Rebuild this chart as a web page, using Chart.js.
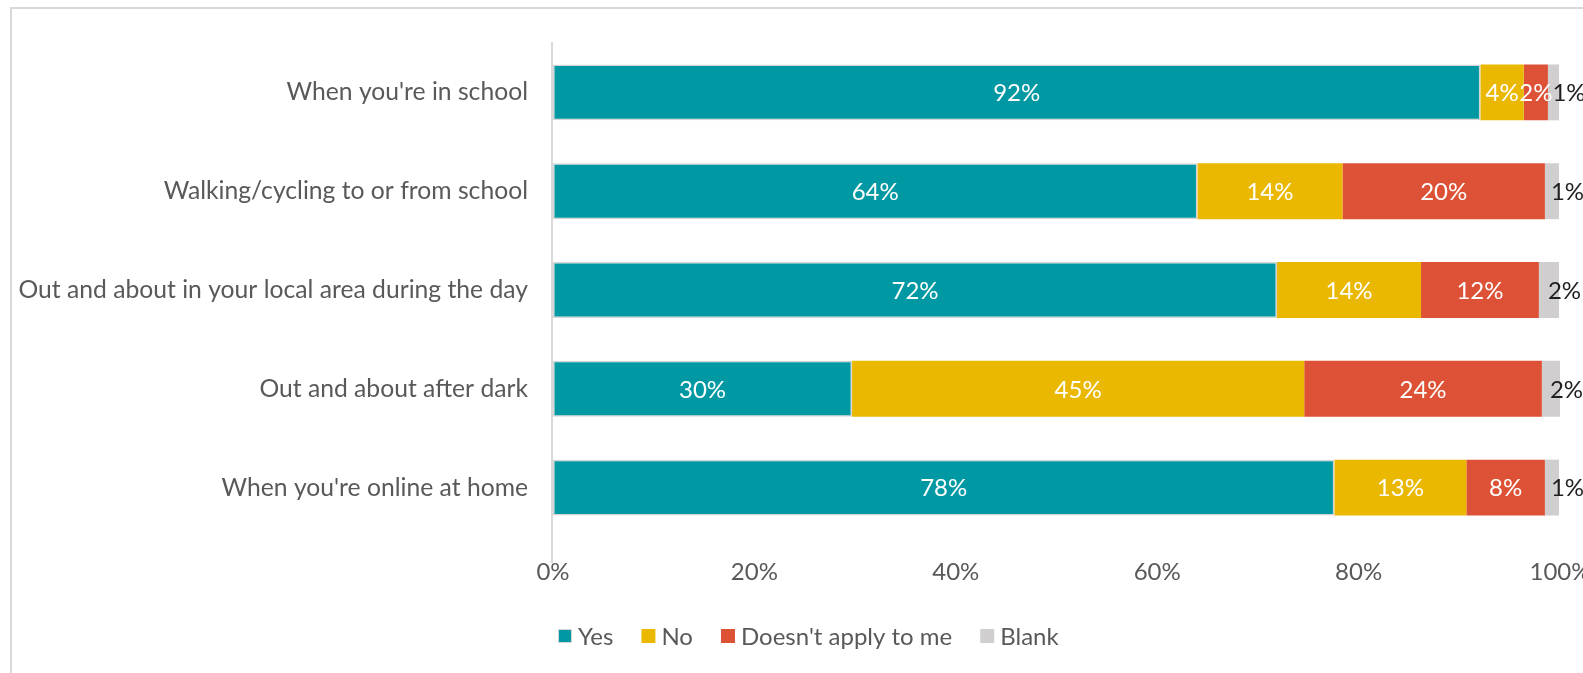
<!DOCTYPE html>
<html>
<head>
<meta charset="utf-8">
<script src="https://cdn.jsdelivr.net/npm/chart.js@4/dist/chart.umd.min.js"></script>
<style>
  html, body { margin: 0; padding: 0; background: #ffffff; overflow: hidden; }
  #wrap { position: relative; width: 1583px; height: 673px; overflow: hidden; }
  canvas { display: block; }
</style>
</head>
<body>
<div id="wrap"><canvas id="chart" width="1583" height="673"></canvas></div>
<script>
// Survey: where respondents feel safe (share of answers, %)
const categories = [
  "When you're in school",
  "Walking/cycling to or from school",
  "Out and about in your local area during the day",
  "Out and about after dark",
  "When you're online at home"
];
const yesValues      = [92.1, 64.0, 71.9, 29.7, 77.6];
const noValues       = [4.3, 14.4, 14.3, 44.9, 13.1];
const notApplyValues = [2.4, 20.1, 11.7, 23.6, 7.8];
const blankValues    = [1.1, 1.4, 2.0, 1.8, 1.4];
const seriesNames  = ["Yes", "No", "Doesn't apply to me", "Blank"];
const seriesColors = ["#0099A3", "#EAB800", "#DD5236", "#D0CECE"];
const xTickValues  = [0, 20, 40, 60, 80, 100];

const FONT = "Lato, 'Liberation Sans', sans-serif";
const TEXT_GREY = "#595959";
const FONT_SIZE = 24;
const CATEGORY_FONT_SIZE = 24.7;

// white background and the light frame edges (top and left)
const framePlugin = {
  id: 'frame',
  beforeDraw(chart) {
    const ctx = chart.ctx;
    ctx.save();
    ctx.fillStyle = '#ffffff';
    ctx.fillRect(0, 0, chart.width, chart.height);
    ctx.strokeStyle = '#D9D9D9';
    ctx.lineWidth = 2;
    ctx.beginPath();
    ctx.moveTo(11, chart.height + 5);
    ctx.lineTo(11, 8);
    ctx.lineTo(chart.width + 5, 8);
    ctx.stroke();
    ctx.restore();
  }
};

// category axis line, running down towards the percentage labels
const axisLine = {
  id: 'axisLine',
  beforeDatasetsDraw(chart) {
    const { ctx, chartArea } = chart;
    ctx.save();
    ctx.strokeStyle = '#D9D9D9';
    ctx.lineWidth = 2;
    ctx.beginPath();
    ctx.moveTo(chartArea.left - 1, chartArea.top - 1);
    ctx.lineTo(chartArea.left - 1, chartArea.bottom + 26);
    ctx.stroke();
    ctx.restore();
  }
};

// value labels on each segment; the small "Blank" segment gets a dark label beside it
const valueLabels = {
  id: 'valueLabels',
  afterDatasetsDraw(chart) {
    const ctx = chart.ctx;
    ctx.save();
    ctx.font = FONT_SIZE + 'px ' + FONT;
    ctx.textBaseline = 'middle';
    chart.data.datasets.forEach((ds, i) => {
      const meta = chart.getDatasetMeta(i);
      meta.data.forEach((el, j) => {
        const v = ds.data[j];
        const txt = Math.round(v) + '%';
        const mid = (el.x + el.base) / 2;
        if (i === 3) {
          ctx.fillStyle = '#1F1F1F';
          ctx.textAlign = 'left';
          ctx.fillText(txt, mid - 1, el.y + 1);
        } else {
          ctx.fillStyle = '#FFFFFF';
          ctx.textAlign = 'center';
          ctx.fillText(txt, mid, el.y + 1);
        }
      });
    });
    ctx.restore();
  }
};

// legend row under the axis
const legendRow = {
  id: 'legendRow',
  afterDraw(chart) {
    const ctx = chart.ctx;
    ctx.save();
    ctx.font = FONT_SIZE + 'px ' + FONT;
    ctx.textBaseline = 'middle';
    ctx.textAlign = 'left';
    const box = 14, gapText = 6, gapItem = 28;
    let x = 558;
    const y = 636;
    chart.data.datasets.forEach((ds, k) => {
      ctx.fillStyle = ds.backgroundColor;
      ctx.fillRect(x, y - box / 2, box, box);
      if (k === 0) {
        ctx.strokeStyle = '#D5D5D5';
        ctx.lineWidth = 1;
        ctx.strokeRect(x + 0.5, y - box / 2 + 0.5, box - 1, box - 1);
      }
      x += box + gapText;
      ctx.fillStyle = TEXT_GREY;
      ctx.fillText(ds.label, x, y + 1);
      x += ctx.measureText(ds.label).width + gapItem;
    });
    ctx.restore();
  }
};

const seriesData = [yesValues, noValues, notApplyValues, blankValues];

new Chart(document.getElementById('chart'), {
  type: 'bar',
  data: {
    labels: categories,
    datasets: seriesNames.map((name, k) => ({
      label: name,
      data: seriesData[k],
      backgroundColor: seriesColors[k],
      borderColor: k === 0 ? '#D5D5D5' : seriesColors[k],
      borderWidth: k === 0 ? 1.5 : 0,
      borderSkipped: false,
      barPercentage: 0.566,
      categoryPercentage: 1.0
    }))
  },
  options: {
    indexAxis: 'y',
    responsive: false,
    devicePixelRatio: 1,
    animation: false,
    layout: { padding: { top: 43, right: 23, bottom: 0, left: 0 } },
    plugins: {
      legend: { display: false },
      tooltip: { enabled: false },
      title: { display: false }
    },
    scales: {
      x: {
        stacked: true,
        min: 0,
        max: 100,
        afterBuildTicks(scale) { scale.ticks = xTickValues.map(v => ({ value: v })); },
        afterFit(scale) { scale.paddingLeft = 0; scale.paddingRight = 0; scale.height = 136; },
        grid: { display: false, drawTicks: false },
        border: { display: false },
        ticks: {
          padding: 21,
          color: TEXT_GREY,
          font: { family: FONT, size: FONT_SIZE },
          maxRotation: 0,
          autoSkip: false,
          callback: v => v + '%'
        }
      },
      y: {
        stacked: true,
        afterFit(scale) { scale.width = 553; scale.paddingTop = 0; scale.paddingBottom = 0; },
        grid: { display: false, drawTicks: false },
        border: { display: false },
        ticks: {
          padding: 25,
          color: TEXT_GREY,
          font: { family: FONT, size: CATEGORY_FONT_SIZE },
          autoSkip: false
        }
      }
    }
  },
  plugins: [framePlugin, axisLine, valueLabels, legendRow]
});
</script>
</body>
</html>
